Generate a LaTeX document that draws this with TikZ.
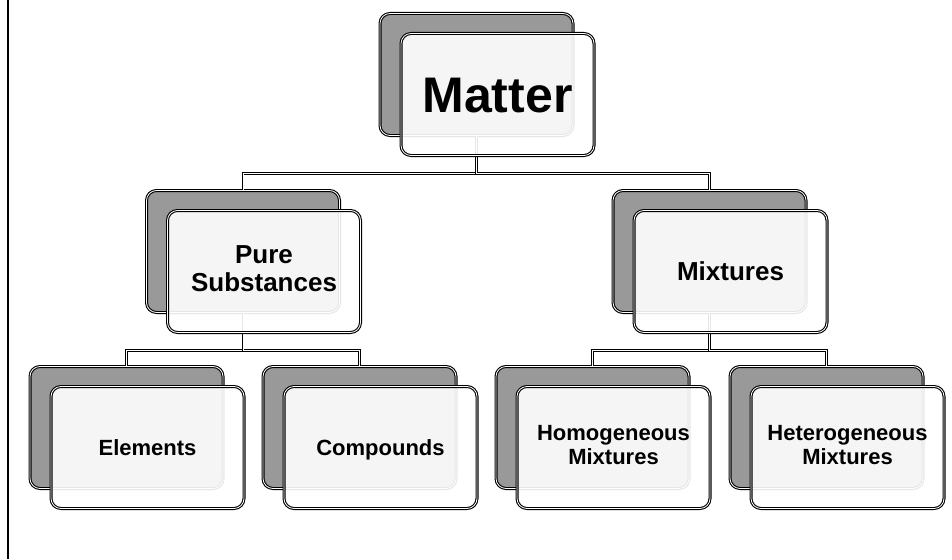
\documentclass[tikz,border=0pt]{standalone}
\usepackage{fontspec}
\setmainfont{Liberation Sans}
\definecolor{shade}{RGB}{153,153,153}
\newcommand{\boxstrut}{\rule[-0.22em]{0pt}{1.156em}}
\begin{document}
\begin{tikzpicture}[x=1pt,y=1pt,
  back/.style={draw,double=white,line width=1.1pt,double distance=0.8pt,rounded corners=10pt,fill=shade,minimum width=193pt,minimum height=122pt,inner sep=0pt},
  front/.style={back,fill=white,fill opacity=0.9,text opacity=1,align=center,font=\bfseries,execute at begin node=\boxstrut,execute at end node=\boxstrut},
  link/.style={draw,double=white,line width=1pt,double distance=0.9pt}]
\useasboundingbox (0,0) rectangle (952,-559);
\draw [line width=1.5pt] (8,0) -- (8,-559);
\node [back] (s0) at (476.5,-74.5) {};
\node [back] (s1) at (243,-251.5) {};
\node [back] (s2) at (709.5,-251.5) {};
\node [back] (s3) at (126.5,-427.5) {};
\node [back] (s4) at (359.5,-427.5) {};
\node [back] (s5) at (592.5,-427.5) {};
\node [back] (s6) at (826.5,-427.5) {};
\draw [link] (s0.south) -- ++(0,-37) -| (s1.north);
\draw [link] (s0.south) -- ++(0,-37) -| (s2.north);
\draw [link] (s1.south) -- ++(0,-37) -| (s3.north);
\draw [link] (s1.south) -- ++(0,-37) -| (s4.north);
\draw [link] (s2.south) -- ++(0,-37) -| (s5.north);
\draw [link] (s2.south) -- ++(0,-37) -| (s6.north);
\node [front,font=\bfseries\fontsize{50}{56}\selectfont] (v0) at (497.5,-94.5) {Matter};
\node [front,font=\bfseries\fontsize{26}{28}\selectfont] (v1) at (264,-271.5) {Pure\\Substances};
\node [front,font=\bfseries\fontsize{26}{28}\selectfont] (v2) at (730.5,-271.5) {Mixtures};
\node [front,font=\bfseries\fontsize{22}{24}\selectfont] (v3) at (147.5,-447.5) {Elements};
\node [front,font=\bfseries\fontsize{22}{24}\selectfont] (v4) at (380.5,-447.5) {Compounds};
\node [front,font=\bfseries\fontsize{22}{24}\selectfont] (v5) at (613.5,-447.5) {Homogeneous\\Mixtures};
\node [front,font=\bfseries\fontsize{22}{24}\selectfont] (v6) at (847.5,-447.5) {Heterogeneous\\Mixtures};
\end{tikzpicture}
\end{document}
